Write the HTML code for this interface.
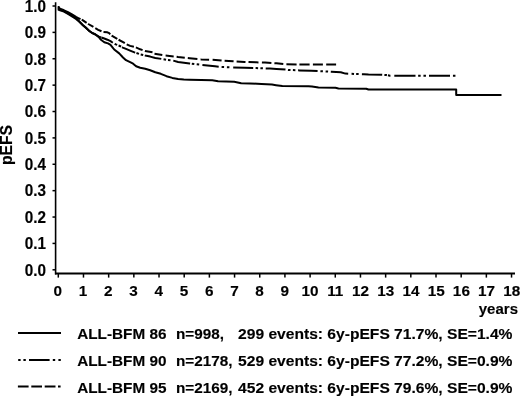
<!DOCTYPE html>
<html><head><meta charset="utf-8"><style>
html,body{margin:0;padding:0;background:#fff;}
body{width:520px;height:397px;overflow:hidden;}
svg{display:block;filter:blur(0.3px);}
text{font-family:"Liberation Sans",sans-serif;font-weight:bold;fill:#000;stroke:#000;stroke-width:0.15px;}
</style></head><body>
<svg width="520" height="397" viewBox="0 0 520 397">

<line x1="55.6" y1="2.2" x2="55.6" y2="274.4" stroke="#000" stroke-width="1.6"/>
<line x1="55" y1="273.5" x2="515" y2="273.5" stroke="#000" stroke-width="1.8"/>
<line x1="52.5" y1="6.00" x2="55.5" y2="6.00" stroke="#000" stroke-width="1.5"/>
<text transform="translate(46.10,11.80) scale(1,1.04)" font-size="15.3" text-anchor="end">1.0</text>
<line x1="52.5" y1="32.38" x2="55.5" y2="32.38" stroke="#000" stroke-width="1.5"/>
<text transform="translate(46.10,38.18) scale(1,1.04)" font-size="15.3" text-anchor="end">0.9</text>
<line x1="52.5" y1="58.76" x2="55.5" y2="58.76" stroke="#000" stroke-width="1.5"/>
<text transform="translate(46.10,64.56) scale(1,1.04)" font-size="15.3" text-anchor="end">0.8</text>
<line x1="52.5" y1="85.14" x2="55.5" y2="85.14" stroke="#000" stroke-width="1.5"/>
<text transform="translate(46.10,90.94) scale(1,1.04)" font-size="15.3" text-anchor="end">0.7</text>
<line x1="52.5" y1="111.52" x2="55.5" y2="111.52" stroke="#000" stroke-width="1.5"/>
<text transform="translate(46.10,117.32) scale(1,1.04)" font-size="15.3" text-anchor="end">0.6</text>
<line x1="52.5" y1="137.90" x2="55.5" y2="137.90" stroke="#000" stroke-width="1.5"/>
<text transform="translate(46.10,143.70) scale(1,1.04)" font-size="15.3" text-anchor="end">0.5</text>
<line x1="52.5" y1="164.28" x2="55.5" y2="164.28" stroke="#000" stroke-width="1.5"/>
<text transform="translate(46.10,170.08) scale(1,1.04)" font-size="15.3" text-anchor="end">0.4</text>
<line x1="52.5" y1="190.66" x2="55.5" y2="190.66" stroke="#000" stroke-width="1.5"/>
<text transform="translate(46.10,196.46) scale(1,1.04)" font-size="15.3" text-anchor="end">0.3</text>
<line x1="52.5" y1="217.04" x2="55.5" y2="217.04" stroke="#000" stroke-width="1.5"/>
<text transform="translate(46.10,222.84) scale(1,1.04)" font-size="15.3" text-anchor="end">0.2</text>
<line x1="52.5" y1="243.42" x2="55.5" y2="243.42" stroke="#000" stroke-width="1.5"/>
<text transform="translate(46.10,249.22) scale(1,1.04)" font-size="15.3" text-anchor="end">0.1</text>
<line x1="52.5" y1="269.80" x2="55.5" y2="269.80" stroke="#000" stroke-width="1.5"/>
<text transform="translate(46.10,275.60) scale(1,1.04)" font-size="15.3" text-anchor="end">0.0</text>
<line x1="58.30" y1="273.5" x2="58.30" y2="277.6" stroke="#000" stroke-width="1.5"/>
<text transform="translate(57.85,295.70) scale(1,1.0)" font-size="15.3" text-anchor="middle">0</text>
<line x1="83.48" y1="273.5" x2="83.48" y2="277.6" stroke="#000" stroke-width="1.5"/>
<text transform="translate(83.07,295.70) scale(1,1.0)" font-size="15.3" text-anchor="middle">1</text>
<line x1="108.66" y1="273.5" x2="108.66" y2="277.6" stroke="#000" stroke-width="1.5"/>
<text transform="translate(108.29,295.70) scale(1,1.0)" font-size="15.3" text-anchor="middle">2</text>
<line x1="133.84" y1="273.5" x2="133.84" y2="277.6" stroke="#000" stroke-width="1.5"/>
<text transform="translate(133.51,295.70) scale(1,1.0)" font-size="15.3" text-anchor="middle">3</text>
<line x1="159.02" y1="273.5" x2="159.02" y2="277.6" stroke="#000" stroke-width="1.5"/>
<text transform="translate(158.73,295.70) scale(1,1.0)" font-size="15.3" text-anchor="middle">4</text>
<line x1="184.20" y1="273.5" x2="184.20" y2="277.6" stroke="#000" stroke-width="1.5"/>
<text transform="translate(183.95,295.70) scale(1,1.0)" font-size="15.3" text-anchor="middle">5</text>
<line x1="209.38" y1="273.5" x2="209.38" y2="277.6" stroke="#000" stroke-width="1.5"/>
<text transform="translate(209.17,295.70) scale(1,1.0)" font-size="15.3" text-anchor="middle">6</text>
<line x1="234.56" y1="273.5" x2="234.56" y2="277.6" stroke="#000" stroke-width="1.5"/>
<text transform="translate(234.39,295.70) scale(1,1.0)" font-size="15.3" text-anchor="middle">7</text>
<line x1="259.74" y1="273.5" x2="259.74" y2="277.6" stroke="#000" stroke-width="1.5"/>
<text transform="translate(259.61,295.70) scale(1,1.0)" font-size="15.3" text-anchor="middle">8</text>
<line x1="284.92" y1="273.5" x2="284.92" y2="277.6" stroke="#000" stroke-width="1.5"/>
<text transform="translate(284.83,295.70) scale(1,1.0)" font-size="15.3" text-anchor="middle">9</text>
<line x1="310.10" y1="273.5" x2="310.10" y2="277.6" stroke="#000" stroke-width="1.5"/>
<text transform="translate(310.05,295.70) scale(1,1.0)" font-size="15.3" text-anchor="middle">10</text>
<line x1="335.28" y1="273.5" x2="335.28" y2="277.6" stroke="#000" stroke-width="1.5"/>
<text transform="translate(335.27,295.70) scale(1,1.0)" font-size="15.3" text-anchor="middle">11</text>
<line x1="360.46" y1="273.5" x2="360.46" y2="277.6" stroke="#000" stroke-width="1.5"/>
<text transform="translate(360.49,295.70) scale(1,1.0)" font-size="15.3" text-anchor="middle">12</text>
<line x1="385.64" y1="273.5" x2="385.64" y2="277.6" stroke="#000" stroke-width="1.5"/>
<text transform="translate(385.71,295.70) scale(1,1.0)" font-size="15.3" text-anchor="middle">13</text>
<line x1="410.82" y1="273.5" x2="410.82" y2="277.6" stroke="#000" stroke-width="1.5"/>
<text transform="translate(410.93,295.70) scale(1,1.0)" font-size="15.3" text-anchor="middle">14</text>
<line x1="436.00" y1="273.5" x2="436.00" y2="277.6" stroke="#000" stroke-width="1.5"/>
<text transform="translate(436.15,295.70) scale(1,1.0)" font-size="15.3" text-anchor="middle">15</text>
<line x1="461.18" y1="273.5" x2="461.18" y2="277.6" stroke="#000" stroke-width="1.5"/>
<text transform="translate(461.37,295.70) scale(1,1.0)" font-size="15.3" text-anchor="middle">16</text>
<line x1="486.36" y1="273.5" x2="486.36" y2="277.6" stroke="#000" stroke-width="1.5"/>
<text transform="translate(486.59,295.70) scale(1,1.0)" font-size="15.3" text-anchor="middle">17</text>
<line x1="511.54" y1="273.5" x2="511.54" y2="277.6" stroke="#000" stroke-width="1.5"/>
<text transform="translate(511.81,295.70) scale(1,1.0)" font-size="15.3" text-anchor="middle">18</text>
<text transform="translate(478.78,313.60) scale(1,0.92)" font-size="15">years</text>
<text transform="translate(11.8,145.0) rotate(-90)" font-size="15.7" text-anchor="middle">pEFS</text>
<polyline points="58.60,6.20 58.60,9.90 60.00,10.30 64.00,11.60 68.00,14.00 72.00,16.50 76.00,19.00 79.30,21.70 82.50,24.90 85.80,27.70 89.10,30.90 92.40,33.20 95.60,34.70 98.90,37.20 100.60,39.50 104.30,42.20 108.00,43.40 110.50,44.90 112.30,47.10 114.20,49.50 119.20,53.40 123.00,57.50 126.00,60.20 130.10,62.20 133.10,63.70 136.10,66.20 140.20,67.70 145.20,68.80 150.20,70.30 155.30,72.30 160.80,73.80 166.50,76.20 172.30,77.90 178.10,79.00 183.80,79.60 189.60,79.80 201.20,80.00 212.30,80.20 218.10,81.20 234.20,81.80 241.20,83.20 250.00,83.40 261.50,84.00 272.00,84.60 276.00,85.20 282.30,86.10 308.50,86.30 312.00,86.60 318.50,87.60 335.40,87.80 338.50,88.50 366.20,88.70 368.50,89.50 456.20,89.50 456.20,95.00 501.50,95.00" fill="none" stroke="#000" stroke-width="2.0" stroke-linejoin="round"/>
<path d="M58.00,8.00 L58.40,8.00 L60.00,9.60 L64.00,11.10 L68.00,13.30 L72.00,15.50 L76.00,18.00 L79.30,21.40 L82.50,24.70 L85.80,27.50 L89.10,30.70 L92.40,33.00 L95.60,34.50 L98.90,36.60 L101.00,37.42 M101.30,37.53 L104.30,38.50 L107.40,39.70 L110.50,41.20 L112.80,42.73 M114.65,43.77 L115.80,44.40 L117.15,44.94 M118.60,45.52 L119.80,46.00 L121.10,46.69 M122.00,47.17 L122.80,47.60 L126.00,48.90 L130.10,50.60 L135.10,52.60 L135.20,52.63 M136.45,53.05 L138.95,53.88 M140.70,54.42 L143.20,55.02 M144.80,55.40 L145.20,55.50 L150.20,56.60 L155.30,58.00 L161.30,58.87 M163.55,59.27 L166.05,59.72 M168.00,59.94 L170.50,60.16 M173.30,60.66 L178.10,62.00 L189.60,63.50 L190.10,63.56 M191.80,63.75 L194.30,64.03 M196.70,64.30 L199.20,64.58 M202.40,64.93 L215.00,66.30 L218.70,66.70 M221.60,67.00 L224.10,67.09 M226.90,67.19 L229.40,67.27 M233.20,67.40 L244.60,67.80 L253.20,68.02 M255.60,68.08 L256.20,68.10 L258.10,68.17 M260.40,68.25 L262.90,68.34 M265.70,68.44 L270.00,68.60 L276.50,68.90 L285.50,69.48 M288.00,69.88 L288.10,69.90 L290.50,70.00 M292.90,70.11 L295.40,70.22 M298.10,70.33 L299.60,70.40 L311.20,70.80 L317.60,71.08 M320.40,71.20 L322.70,71.30 L322.90,71.31 M325.60,71.43 L328.10,71.55 M330.80,71.67 L331.50,71.70 L340.80,72.30 L345.40,73.60 L348.20,73.72 M351.55,73.87 L354.05,73.98 M356.15,74.03 L358.65,74.09 M361.90,74.16 L363.80,74.20 L368.50,74.50 L382.00,74.80 L382.20,74.81 M384.40,74.96 L386.50,75.10 L386.90,75.17 M387.95,75.35 L390.00,75.70 L390.45,75.71 M394.30,75.75 L398.10,75.80 L415.50,75.80 M418.15,75.80 L420.65,75.80 M423.45,75.80 L425.95,75.80 M429.00,75.80 L435.00,75.80 L450.00,75.80 M452.95,75.80 L455.40,75.80 L455.45,75.80" fill="none" stroke="#000" stroke-width="2.0" stroke-linejoin="round"/>
<path d="M58.00,7.00 L58.40,7.00 L60.00,8.80 L64.00,10.30 L68.00,12.20 L72.00,14.30 L76.00,16.80 L79.00,18.50 L80.50,19.21 M81.70,19.78 L82.60,20.20 L86.60,22.87 M88.00,23.80 L88.30,24.00 L93.40,26.91 M95.30,28.21 L98.20,29.80 L101.50,31.27 M103.50,32.01 L107.40,32.30 L109.20,33.20 L110.20,34.43 M111.60,35.62 L111.70,35.70 L117.20,38.80 L117.30,38.87 M118.60,39.75 L124.00,42.60 L124.80,43.11 M126.70,44.29 L130.10,45.90 L133.90,46.83 M135.90,47.44 L140.20,49.30 L142.60,50.10 M144.90,50.87 L145.00,50.90 L152.50,52.26 M154.50,53.65 L162.30,54.93 M165.60,55.62 L173.70,56.39 M176.60,56.79 L178.10,57.00 L184.80,57.76 M187.80,58.10 L189.60,58.30 L197.40,59.04 M200.60,59.34 L201.20,59.40 L209.10,59.68 M212.60,59.82 L221.50,60.40 L221.60,60.41 M224.60,60.64 L233.10,61.30 L233.60,61.33 M236.60,61.48 L244.60,61.90 L245.50,61.93 M248.50,62.03 L256.20,62.30 L258.50,62.38 M261.90,62.49 L265.00,62.60 L271.40,62.99 M274.40,63.17 L276.50,63.30 L283.30,64.02 M286.40,64.30 L296.60,64.38 M299.40,64.40 L299.60,64.40 L309.60,64.40 M312.90,64.40 L322.90,64.40 M326.20,64.40 L336.10,64.40" fill="none" stroke="#000" stroke-width="2.0" stroke-linejoin="round"/>
<line x1="18" y1="333" x2="61" y2="333" stroke="#000" stroke-width="2.0"/>
<path d="M18.2,360 H20.6 M23.4,360 H25.8 M29.0,360 H49.6 M52.8,360 H55.2 M58.4,360 H60.8" stroke="#000" stroke-width="2.0"/>
<path d="M17.9,386.5 H28.6 M31.3,386.5 H42.0 M44.7,386.5 H55.5 M58.0,386.5 H60.6" stroke="#000" stroke-width="2.0"/>
<text transform="translate(77.20,339.10) scale(1,0.97)" font-size="15.3" textLength="89.24" lengthAdjust="spacingAndGlyphs">ALL-BFM 86</text>
<text transform="translate(175.89,339.10) scale(1,0.97)" font-size="15.3">n=998,</text>
<text transform="translate(238.05,339.10) scale(1,0.97)" font-size="15.3" textLength="274.45" lengthAdjust="spacingAndGlyphs">299 events: 6y-pEFS 71.7%, SE=1.4%</text>
<text transform="translate(77.20,366.00) scale(1,0.97)" font-size="15.3" textLength="89.24" lengthAdjust="spacingAndGlyphs">ALL-BFM 90</text>
<text transform="translate(175.89,366.00) scale(1,0.97)" font-size="15.3">n=2178,</text>
<text transform="translate(238.05,366.00) scale(1,0.97)" font-size="15.3" textLength="274.45" lengthAdjust="spacingAndGlyphs">529 events: 6y-pEFS 77.2%, SE=0.9%</text>
<text transform="translate(77.20,392.70) scale(1,0.97)" font-size="15.3" textLength="89.24" lengthAdjust="spacingAndGlyphs">ALL-BFM 95</text>
<text transform="translate(175.89,392.70) scale(1,0.97)" font-size="15.3">n=2169,</text>
<text transform="translate(238.05,392.70) scale(1,0.97)" font-size="15.3" textLength="274.45" lengthAdjust="spacingAndGlyphs">452 events: 6y-pEFS 79.6%, SE=0.9%</text>
</svg></body></html>
